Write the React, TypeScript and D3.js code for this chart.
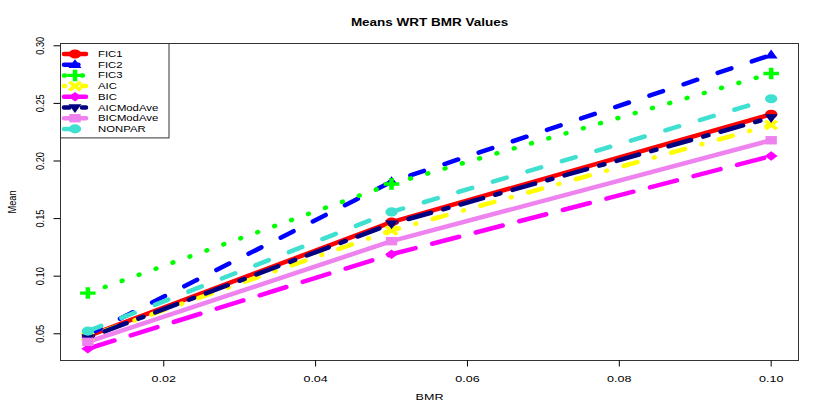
import React from 'react';
import * as d3 from 'd3';

const bmrValues = [0.01, 0.05, 0.1];
const seriesNames = ['FIC1', 'FIC2', 'FIC3', 'AIC', 'BIC', 'AICModAve', 'BICModAve', 'NONPAR'];
const fic1 = [0.048, 0.147, 0.2405];
const fic2 = [0.049, 0.182, 0.292];
const fic3 = [0.0853, 0.18, 0.276];
const aic = [0.0475, 0.1397, 0.2313];
const bic = [0.037, 0.119, 0.2043];
const aicModAve = [0.0466, 0.1455, 0.2377];
const bicModAve = [0.043, 0.1304, 0.218];
const nonpar = [0.0523, 0.1558, 0.254];
const xTicks = [0.02, 0.04, 0.06, 0.08, 0.1];
const yTicks = [0.05, 0.1, 0.15, 0.2, 0.25, 0.3];

const seriesValues = [fic1, fic2, fic3, aic, bic, aicModAve, bicModAve, nonpar];
const colors = ['#FF0000', '#0000FF', '#00FF00', '#FFFF00', '#FF00FF', '#000080', '#EE82EE', '#40E0D0'];
const ltys = ['solid', 'dashed', 'dotted', 'dotdash', 'longdash', 'twodash', 'solid', 'dashed'];
const pchs = ['circle', 'triangle', 'plus', 'cross', 'diamond', 'invtriangle', 'square', 'circle'];

const FONT = '"Liberation Sans", Arial, Helvetica, sans-serif';
const LW = 4.5;
const SX = 1.35;
const MS = 1.2;

const ltyUnits: Record<string, number[] | null> = {
  solid: null,
  dashed: [4, 4],
  dotted: [1, 3],
  dotdash: [1, 3, 4, 3],
  longdash: [7, 3],
  twodash: [2, 2, 6, 2],
};

function dashArray(lty: string): string | undefined {
  const u = ltyUnits[lty];
  if (!u) return undefined;
  return u
    .map((v, i) => (i % 2 === 0 ? Math.max(v * LW - LW * 0.8, 0.01) : v * LW + LW * 0.8).toFixed(2))
    .join(',');
}

function Marker({ cx, cy, pch, color }: { cx: number; cy: number; pch: string; color: string }) {
  let shape: React.ReactNode = null;
  if (pch === 'circle') shape = <circle r={3.8} fill={color} />;
  else if (pch === 'triangle') shape = <path d="M0,-4.6L4,2.8L-4,2.8Z" fill={color} />;
  else if (pch === 'invtriangle') shape = <path d="M0,4.6L4,-2.8L-4,-2.8Z" fill={color} />;
  else if (pch === 'square') shape = <rect x={-3.5} y={-3.5} width={7} height={7} fill={color} />;
  else if (pch === 'diamond') shape = <path d="M0,-4L4,0L0,4L-4,0Z" fill={color} />;
  else if (pch === 'plus')
    shape = (
      <path d="M-4.8,0L4.8,0M0,-4.8L0,4.8" stroke={color} strokeWidth={2.8} strokeLinecap="butt" fill="none" />
    );
  else if (pch === 'cross')
    shape = (
      <path d="M-3.5,-3.5L3.5,3.5M-3.5,3.5L3.5,-3.5" stroke={color} strokeWidth={2.6} fill="none" />
    );
  return <g transform={`translate(${cx},${cy}) scale(${SX * MS},${MS})`}>{shape}</g>;
}

function HText({ x, y, text, size, anchor = 'middle', weight = 'normal' }: any) {
  return (
    <text
      transform={`translate(${x},${y}) scale(${SX},1)`}
      textAnchor={anchor}
      fontSize={size}
      fontWeight={weight}
      fontFamily={FONT}
      fill="#000"
    >
      {text}
    </text>
  );
}

export default function App() {
  const W = 830;
  const H = 415;
  const left = 60.5;
  const right = 798.5;
  const top = 43.5;
  const bottom = 360.5;
  const x = d3.scaleLinear().domain([0.0064, 0.1036]).range([left, right]);
  const y = d3.scaleLinear().domain([0.0268, 0.302]).range([bottom, top]);
  const line = d3
    .line<number>()
    .x((_, i) => x(bmrValues[i]))
    .y((d) => y(d));

  const legX0 = left;
  const legY0 = top;
  const legW = 108.5;
  const legRowH = 10.7;
  const legFirst = 54;

  return (
    <svg
      width={W}
      height={H}
      style={{ position: 'absolute', left: 0, top: 0, background: '#fff' }}
      xmlns="http://www.w3.org/2000/svg"
    >
      <rect x={0} y={0} width={W} height={H} fill="#fff" />
      <HText x={(left + right) / 2} y={26} text="Means WRT BMR Values" size={10} weight="bold" />

      {seriesValues.map((vals, i) => (
        <path
          key={'l' + i}
          d={line(vals) || ''}
          fill="none"
          stroke={colors[i]}
          strokeWidth={LW}
          strokeDasharray={dashArray(ltys[i])}
          strokeLinecap="round"
          strokeLinejoin="round"
        />
      ))}
      {seriesValues.map((vals, i) =>
        vals.map((v, j) => (
          <Marker key={`m${i}-${j}`} cx={x(bmrValues[j])} cy={y(v)} pch={pchs[i]} color={colors[i]} />
        ))
      )}

      <rect x={left} y={top} width={right - left} height={bottom - top} fill="none" stroke="#333" strokeWidth={1} />

      {xTicks.map((t) => (
        <g key={'xt' + t}>
          <line x1={x(t)} x2={x(t)} y1={bottom} y2={bottom + 6} stroke="#000" />
          <HText x={x(t)} y={bottom + 21} text={t.toFixed(2)} size={9.3} />
        </g>
      ))}
      <HText x={(left + right) / 2} y={400} text="BMR" size={9.3} />

      {yTicks.map((t) => (
        <g key={'yt' + t}>
          <line x1={left} x2={left - 7} y1={y(t)} y2={y(t)} stroke="#000" />
          <text
            transform={`translate(${44},${y(t)}) scale(1.25,1) rotate(-90)`}
            textAnchor="middle"
            fontSize={9.2}
            fontFamily={FONT}
          >
            {t.toFixed(2)}
          </text>
        </g>
      ))}
      <text
        transform={`translate(${16},${202}) scale(1.25,1) rotate(-90)`}
        textAnchor="middle"
        fontSize={9.2}
        fontFamily={FONT}
      >
        Mean
      </text>

      <rect
        x={legX0}
        y={legY0}
        width={legW}
        height={legFirst + 7 * legRowH + 9 - legY0}
        fill="#fff"
        stroke="#333"
        strokeWidth={1}
      />
      {seriesNames.map((name, i) => {
        const cy = legFirst + i * legRowH;
        return (
          <g key={'lg' + i}>
            <line
              x1={64}
              x2={86}
              y1={cy}
              y2={cy}
              stroke={colors[i]}
              strokeWidth={LW}
              strokeDasharray={dashArray(ltys[i])}
              strokeLinecap="round"
            />
            <Marker cx={75} cy={cy} pch={pchs[i]} color={colors[i]} />
            <HText x={98} y={cy + 3} text={name} size={8.4} anchor="start" />
          </g>
        );
      })}
    </svg>
  );
}
